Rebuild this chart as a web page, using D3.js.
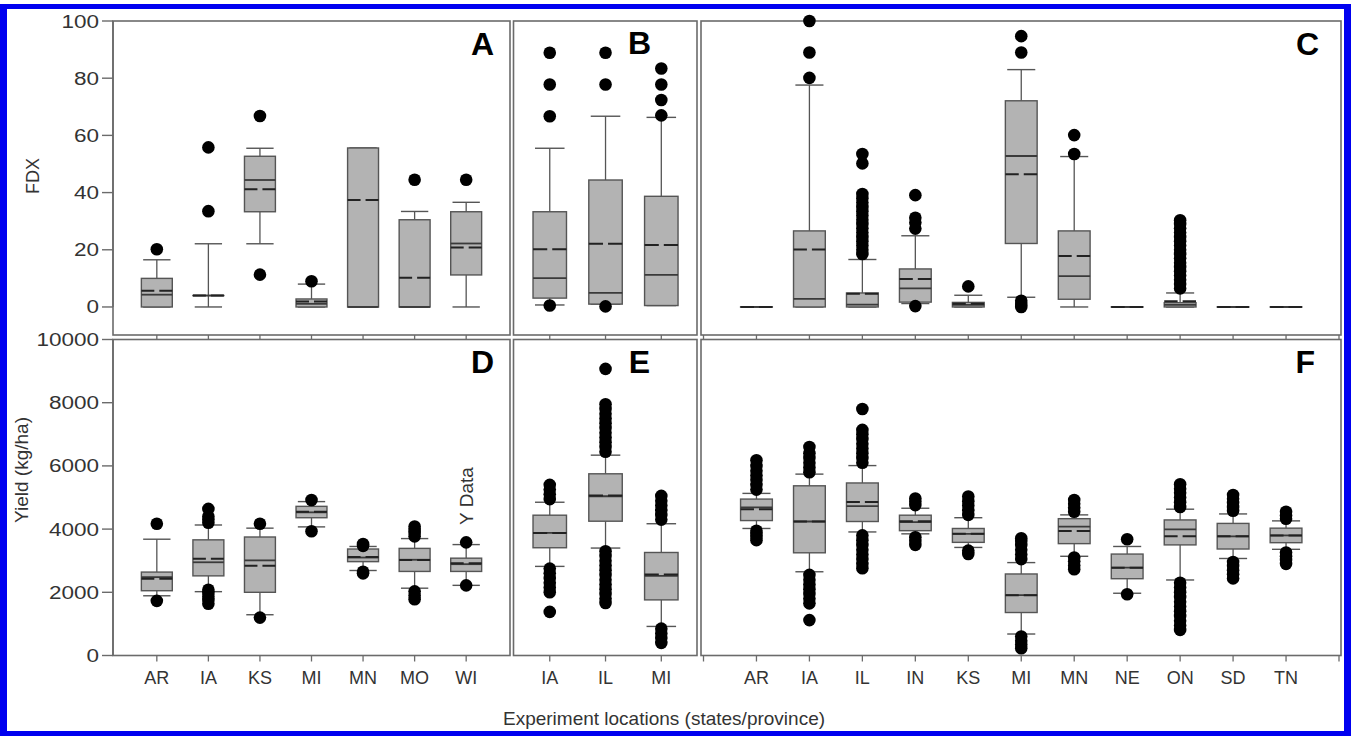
<!DOCTYPE html>
<html><head><meta charset="utf-8">
<script src="https://cdn.jsdelivr.net/npm/d3@7"></script>
<style>
body{margin:0;background:#fff;}
svg{display:block;}
text{font-family:"Liberation Sans",Arial,Helvetica,sans-serif;}
</style>
</head><body>
<svg id="chart" width="1351" height="736"></svg>
<script>
// ---------- DATA ----------
const yTicksTop = [0, 20, 40, 60, 80, 100];
const yTicksBottom = [0, 2000, 4000, 6000, 8000, 10000];

const catsA = ["AR", "IA", "KS", "MI", "MN", "MO", "WI"];
// [low whisker, Q1, median, Q3, high whisker, mean]
const boxA = [
  [0, 0, 4.3, 10, 16.5, 5.7],
  [0, 4, 4, 4, 22.1, 4],
  [22.1, 33.3, 44.4, 52.7, 55.5, 41.2],
  [0, 0, 1.1, 2.8, 8.0, 1.9],
  [0, 0, 0, 55.6, 55.6, 37.4],
  [0, 0, 0, 30.5, 33.4, 10.2],
  [0, 11.2, 22.2, 33.3, 36.6, 20.8]
];
const outA = [[20.2], [33.5, 55.8], [11.3, 66.8], [9.0], [], [44.5], [44.5]];

const catsB = ["IA", "IL", "MI"];
const boxB = [
  [0.7, 3.1, 10.1, 33.3, 55.5, 20.2],
  [1, 1, 4.9, 44.4, 66.7, 22.1],
  [0.5, 0.5, 11.2, 38.7, 66.3, 21.7]
];
const outB = [[0.5, 66.7, 77.8, 88.9], [0.2, 77.8, 88.9], [67, 72.4, 77.8, 83.4]];

const catsC = ["AR", "IA", "IL", "IN", "KS", "MI", "MN", "NE", "ON", "SD", "TN"];
const boxC = [
  [0, 0, 0, 0, 0, 0],
  [0, 0, 2.8, 26.6, 77.6, 20.1],
  [0, 0, 0.8, 4.9, 16.6, 4.6],
  [1.2, 1.7, 6.5, 13.3, 24.9, 9.8],
  [0, 0, 0.7, 1.6, 4.1, 1.1],
  [3.4, 22.2, 52.8, 72.1, 83, 46.4],
  [0, 2.7, 10.8, 26.6, 52.6, 17.8],
  [0, 0, 0, 0, 0, 0],
  [0, 0, 0.7, 1.5, 4.9, 2.0],
  [0, 0, 0, 0, 0, 0],
  [0, 0, 0, 0, 0, 0]
];
const outC = [
  [],
  [80.1, 89, 100],
  [18.5, 20, 21.5, 23, 24.5, 26, 27.5, 29, 30.5, 32, 33.5, 35, 36.5, 38, 39.5, 50.2, 53.5],
  [0.3, 27.4, 29.5, 31.2, 39.1],
  [7.2],
  [0, 1, 2.2, 89, 94.7],
  [53.5, 60.1],
  [],
  [6.5, 8, 9.5, 11, 12.5, 14, 15.5, 17, 18.5, 20, 21.5, 23, 24.5, 26, 27.5, 29, 30.3],
  [],
  []
];

const catsD = ["AR", "IA", "KS", "MI", "MN", "MO", "WI"];
const boxD = [
  [1890, 2050, 2480, 2640, 3680, 2430],
  [2020, 2520, 2950, 3660, 4130, 3060],
  [1290, 2000, 3010, 3750, 4030, 2840],
  [4070, 4360, 4530, 4720, 4870, 4550],
  [2690, 2970, 3100, 3370, 3450, 3120],
  [2130, 2660, 3030, 3390, 3700, 3020],
  [2220, 2660, 2890, 3080, 3510, 2920]
];
const outD = [
  [1730, 4170],
  [1640, 1760, 1870, 1980, 2080, 4200, 4300, 4400, 4640],
  [1200, 4170],
  [3930, 4920],
  [2600, 2650, 3470, 3530],
  [1780, 1900, 2030, 3770, 3880, 3970, 4080],
  [2220, 3580]
];

const catsE = ["IA", "IL", "MI"];
const boxE = [
  [2820, 3410, 3880, 4440, 4850, 3880],
  [3400, 4250, 5040, 5750, 6340, 5060],
  [920, 1760, 2520, 3260, 4170, 2560]
];
const outE = [
  [1380, 2000, 2150, 2300, 2450, 2600, 2750, 4950, 5100, 5250, 5400],
  [1660, 1800, 1950, 2100, 2250, 2400, 2550, 2700, 2850, 3000, 3150, 3300,
   6450, 6600, 6750, 6900, 7050, 7200, 7350, 7500, 7650, 7800, 7950, 9070],
  [400, 550, 700, 850, 4300, 4450, 4600, 4750, 4900, 5050]
];

const catsF = ["AR", "IA", "IL", "IN", "KS", "MI", "MN", "NE", "ON", "SD", "TN"];
const boxF = [
  [4020, 4270, 4690, 4950, 5130, 4630],
  [2650, 3250, 4240, 5370, 5740, 4240],
  [3910, 4240, 4730, 5460, 6010, 4860],
  [3850, 3950, 4220, 4440, 4660, 4250],
  [3420, 3580, 3850, 4020, 4360, 3850],
  [680, 1360, 1910, 2580, 2940, 1910],
  [3140, 3540, 4080, 4330, 4450, 3940],
  [1970, 2430, 2780, 3210, 3450, 2780],
  [2390, 3500, 3990, 4290, 4630, 3770],
  [3070, 3370, 3770, 4180, 4480, 3770],
  [3360, 3570, 3800, 4030, 4260, 3800]
];
const outF = [
  [3650, 3750, 3850, 3950, 5250, 5400, 5550, 5700, 5850, 6000, 6180],
  [1120, 1650, 1800, 1950, 2100, 2250, 2400, 2550, 5800, 5950, 6100, 6250, 6400, 6600],
  [2760, 2900, 3050, 3200, 3350, 3500, 3650, 3800, 6100, 6250, 6400, 6550, 6700, 6850, 7000, 7140, 7800],
  [3500, 3620, 3740, 4760, 4870, 4970],
  [3210, 3320, 4450, 4600, 4750, 4880, 5030],
  [230, 350, 470, 600, 3050, 3200, 3350, 3500, 3620, 3710],
  [2730, 2850, 2980, 3100, 4550, 4680, 4800, 4920],
  [1940, 3680],
  [810, 950, 1100, 1250, 1400, 1550, 1700, 1850, 2000, 2150, 2300, 4700, 4850, 5000, 5150, 5280, 5420],
  [2440, 2570, 2700, 2830, 2960, 4580, 4700, 4830, 4960, 5080],
  [2900, 3020, 3140, 3260, 4330, 4430, 4550]
];

// ---------- DRAWING ----------
const svg = d3.select("#chart");
const FRAME = "#6b6b6b", INK = "#333", BOXFILL = "#b3b3b3", BOXLINE = "#555";

const yTop = d3.scaleLinear().domain([-9.8, 100]).range([335, 21]);
const yBot = d3.scaleLinear().domain([0, 10000]).range([655.5, 339.5]);
const xAD = d3.scaleLinear().domain([0.15, 7.85]).range([113, 510]);
const xBE = d3.scaleLinear().domain([0.35, 3.64]).range([513.5, 697]);
const xCF = d3.scaleLinear().domain([0, 12]).range([703.5, 1339]);

function panel(opts) {
  const {cats, boxes, outs, x, y, frame, letter, letterX, letterY, top, edgeTicks} = opts;
  const g = svg.append("g");
  const step = x(2) - x(1);
  const bw = step * 0.6, cw = step * 0.53;
  const [fx0, fx1] = frame;
  const [fy1, fy0] = y.range(); // bottom, top

  g.append("rect").attr("x", fx0).attr("y", fy0).attr("width", fx1 - fx0).attr("height", fy1 - fy0)
    .attr("fill", "none").attr("stroke", FRAME).attr("stroke-width", 1.6);

  // x ticks
  const tickPos = cats.map((c, i) => i + 1);
  if (edgeTicks) { tickPos.push(0); tickPos.push(cats.length + 1); }
  g.selectAll(".xt").data(tickPos).join("line")
    .attr("x1", d => x(d)).attr("x2", d => x(d))
    .attr("y1", fy1).attr("y2", fy1 + (top ? 4 : 6))
    .attr("stroke", FRAME).attr("stroke-width", 1.3);
  if (!top) {
    g.selectAll(".xl").data(cats).join("text")
      .attr("x", (d, i) => x(i + 1)).attr("y", 684)
      .attr("text-anchor", "middle").attr("font-size", 18).attr("fill", INK)
      .text(d => d);
  }

  const items = boxes.map((b, i) => ({cx: x(i + 1), lo: b[0], q1: b[1], med: b[2], q3: b[3], hi: b[4], mean: b[5], out: outs[i]}));
  const bg = g.selectAll(".box").data(items).join("g");
  // whiskers
  bg.append("line").attr("x1", d => d.cx).attr("x2", d => d.cx)
    .attr("y1", d => y(d.lo)).attr("y2", d => y(d.q1)).attr("stroke", BOXLINE).attr("stroke-width", 1.3);
  bg.append("line").attr("x1", d => d.cx).attr("x2", d => d.cx)
    .attr("y1", d => y(d.q3)).attr("y2", d => y(d.hi)).attr("stroke", BOXLINE).attr("stroke-width", 1.3);
  bg.append("line").attr("x1", d => d.cx - cw / 2).attr("x2", d => d.cx + cw / 2)
    .attr("y1", d => y(d.lo)).attr("y2", d => y(d.lo)).attr("stroke", BOXLINE).attr("stroke-width", 1.4);
  bg.append("line").attr("x1", d => d.cx - cw / 2).attr("x2", d => d.cx + cw / 2)
    .attr("y1", d => y(d.hi)).attr("y2", d => y(d.hi)).attr("stroke", BOXLINE).attr("stroke-width", 1.4);
  // box
  bg.append("rect").attr("x", d => d.cx - bw / 2).attr("width", bw)
    .attr("y", d => y(d.q3)).attr("height", d => Math.max(0.01, y(d.q1) - y(d.q3)))
    .attr("fill", BOXFILL).attr("stroke", BOXLINE).attr("stroke-width", 1.4);
  // median
  bg.append("line").attr("x1", d => d.cx - bw / 2).attr("x2", d => d.cx + bw / 2)
    .attr("y1", d => y(d.med)).attr("y2", d => y(d.med)).attr("stroke", "#3a3a3a").attr("stroke-width", 1.8);
  // mean (dashed)
  bg.append("line").attr("x1", d => d.cx - bw / 2).attr("x2", d => d.cx + bw / 2)
    .attr("y1", d => y(d.mean)).attr("y2", d => y(d.mean)).attr("stroke", "#222").attr("stroke-width", 2)
    .attr("stroke-dasharray", (bw / 2 - 2.5) + ",5");
  // outliers
  bg.selectAll("circle").data(d => d.out.map(v => ({cx: d.cx, v}))).join("circle")
    .attr("cx", d => d.cx).attr("cy", d => y(d.v)).attr("r", 6.3).attr("fill", "#000");

  g.append("text").attr("x", letterX).attr("y", letterY).attr("text-anchor", "end")
    .attr("font-size", 32).attr("font-weight", "bold").attr("fill", "#000").text(letter);
}

panel({cats: catsA, boxes: boxA, outs: outA, x: xAD, y: yTop, frame: [113, 510], letter: "A", letterX: 494, letterY: 55, top: true});
panel({cats: catsB, boxes: boxB, outs: outB, x: xBE, y: yTop, frame: [513.5, 697], letter: "B", letterX: 651, letterY: 54, top: true});
panel({cats: catsC, boxes: boxC, outs: outC, x: xCF, y: yTop, frame: [701, 1341], letter: "C", letterX: 1319, letterY: 55, top: true, edgeTicks: true});
panel({cats: catsD, boxes: boxD, outs: outD, x: xAD, y: yBot, frame: [113, 510], letter: "D", letterX: 494, letterY: 373, top: false});
panel({cats: catsE, boxes: boxE, outs: outE, x: xBE, y: yBot, frame: [513.5, 697], letter: "E", letterX: 650, letterY: 373, top: false});
panel({cats: catsF, boxes: boxF, outs: outF, x: xCF, y: yBot, frame: [701, 1341], letter: "F", letterX: 1315, letterY: 373, top: false, edgeTicks: true});

// y axes
function yAxis(scale, ticks) {
  const g = svg.append("g");
  g.append("line").attr("x1", 113).attr("x2", 113).attr("y1", scale(ticks[0])).attr("y2", scale(ticks[ticks.length - 1]))
    .attr("stroke", FRAME).attr("stroke-width", 1.6);
  g.selectAll("line.t").data(ticks).join("line").attr("class", "t")
    .attr("x1", 102).attr("x2", 113).attr("y1", d => scale(d)).attr("y2", d => scale(d))
    .attr("stroke", FRAME).attr("stroke-width", 1.4);
  g.selectAll("text").data(ticks).join("text")
    .attr("transform", d => `translate(99,${scale(d) + 6.5}) scale(1.25,1)`)
    .attr("text-anchor", "end").attr("font-size", 18).attr("fill", INK)
    .text(d => d);
}
yAxis(yTop, yTicksTop);
yAxis(yBot, yTicksBottom);

// titles
svg.append("text").attr("transform", "translate(39,176) rotate(-90)").attr("text-anchor", "middle")
  .attr("font-size", 18).attr("fill", INK).text("FDX");
svg.append("text").attr("transform", "translate(28,470) rotate(-90)").attr("text-anchor", "middle")
  .attr("font-size", 19).attr("fill", INK).text("Yield (kg/ha)");
svg.append("text").attr("x", 664).attr("y", 725).attr("text-anchor", "middle")
  .attr("font-size", 19).attr("fill", INK).text("Experiment locations (states/province)");
svg.append("text").attr("transform", "translate(473,496) rotate(-90)").attr("text-anchor", "middle")
  .attr("font-size", 19).attr("fill", INK).text("Y Data");

// blue border
const BLUE = "#0000f0";
svg.append("rect").attr("x", 0).attr("y", 4).attr("width", 1351).attr("height", 5).attr("fill", BLUE);
svg.append("rect").attr("x", 0).attr("y", 731).attr("width", 1351).attr("height", 5).attr("fill", BLUE);
svg.append("rect").attr("x", 0).attr("y", 4).attr("width", 7).attr("height", 732).attr("fill", BLUE);
svg.append("rect").attr("x", 1344).attr("y", 4).attr("width", 7).attr("height", 732).attr("fill", BLUE);
</script>
</body></html>
